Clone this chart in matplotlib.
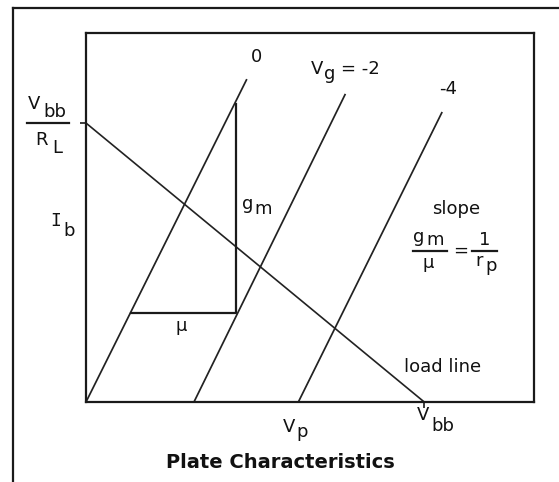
import matplotlib
matplotlib.use("Agg")
import matplotlib.pyplot as plt
from matplotlib.lines import Line2D

# ---------------- data (arbitrary units: plate voltage 0-100, plate current 0-100)
grid_voltages = [0, -2, -4]
curve_start_vp = [0.0, 24.1, 47.4]     # plate voltage where each curve meets Ib = 0
curve_end_vp = [35.9, 57.9, 79.5]      # plate voltage at the upper end of each curve
curve_end_ib = [87.5, 83.5, 78.6]      # plate current at the upper end of each curve
load_vbb = 75.5                        # load line x-intercept (Vbb)
load_vbb_over_rl = 75.6                # load line y-intercept (Vbb / RL)
triangle_vp = [10.0, 33.4, 33.4]       # mu / gm construction
triangle_ib = [24.1, 24.1, 80.8]

W, H = 559, 482
fig = plt.figure(figsize=(W / 100, H / 100), dpi=100)
fig.patch.set_facecolor("white")

# axes box in pixels: x 86..534, y 33..402
L, R, T_, B = 86, 534, 33, 402
ax = fig.add_axes([L / W, 1 - B / H, (R - L) / W, (B - T_) / H])
ax.set_xlim(0, 100)
ax.set_ylim(0, 100)
for s in ax.spines.values():
    s.set_linewidth(1.6)
    s.set_color("#1a1a1a")
ax.set_xticks([load_vbb])
ax.set_yticks([load_vbb_over_rl])
ax.set_xticklabels([""])
ax.set_yticklabels([""])
ax.tick_params(direction="out", length=4, width=1.2, color="#1a1a1a")

# characteristic curves
for x0, x1, y1 in zip(curve_start_vp, curve_end_vp, curve_end_ib):
    ax.plot([x0, x1], [0, y1], color="#222222", lw=1.25, solid_capstyle="butt", clip_on=False)

# load line
ax.plot([0, load_vbb], [load_vbb_over_rl, 0], color="#222222", lw=1.2, clip_on=False)

# triangle construction
ax.plot(triangle_vp, triangle_ib, color="#1a1a1a", lw=1.6, clip_on=False)

# outer frame
fig.add_artist(Line2D([13 / W, 13 / W], [1 - 8 / H, -0.05], transform=fig.transFigure,
                      color="#1a1a1a", lw=1.6))
fig.add_artist(Line2D([13 / W, 1.05], [1 - 8 / H, 1 - 8 / H], transform=fig.transFigure,
                      color="#1a1a1a", lw=1.6))

FONT = "DejaVu Sans"
FS = 13


def txt(x, y, s, ha="left", fs=FS, family=FONT, **kw):
    fig.text(x / W, 1 - y / H, s, ha=ha, va="baseline", fontsize=fs,
             family=family, color="#111111", **kw)


def hbar(x0, x1, y):
    fig.add_artist(Line2D([x0 / W, x1 / W], [1 - y / H, 1 - y / H],
                          transform=fig.transFigure, color="#1a1a1a", lw=1.6))


# curve labels
txt(256, 62, "0", ha="center")
txt(311, 74, "V")
txt(324, 79, "g")
txt(341, 74, "= -2")
txt(448, 94, "-4", ha="center")

# Vbb / RL
txt(28, 109, "V")
txt(43, 117, "bb")
hbar(27, 69, 123)
txt(35, 145, "R")
txt(52, 153, "L")

# Ib
txt(50, 226, "I", family="DejaVu Sans Mono")
txt(63, 236, "b")

# gm and mu
txt(242, 209, "g")
txt(254, 214, "m")
txt(181, 331, "\u03bc", ha="center")

# slope formula
txt(456, 214, "slope", ha="center")
txt(413, 242, "g")
txt(426, 245, "m")
hbar(413, 447, 251)
txt(428, 268, "\u03bc", ha="center")
txt(461, 256, "=", ha="center")
txt(485, 245, "1", ha="center")
hbar(472, 497, 251)
txt(475, 266, "r")
txt(485, 271, "p")

# load line label
txt(404, 372, "load line")

# axis labels
txt(417, 420, "V")
txt(431, 431, "bb")
txt(283, 432, "V")
txt(296, 437, "p")

# title
txt(280, 468, "Plate Characteristics", ha="center", fs=14, fontweight="bold")

fig.savefig("out.png", dpi=100, facecolor="white")
